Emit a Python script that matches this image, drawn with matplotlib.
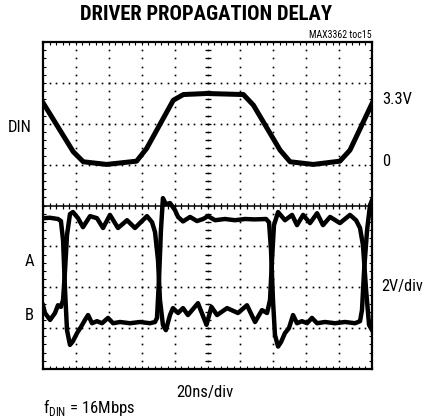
import numpy as np
import matplotlib
matplotlib.use("Agg")
import matplotlib.pyplot as plt

# time in ns (20 ns/div, 10 div), levels in screen divisions (0 = bottom, 8 = top)
din_t = [0, 18.4, 24.5, 38.7, 56.9, 63.0, 79.2, 85.3, 99.5, 121.8, 127.9,
         144.1, 150.2, 164.3, 180.5, 186.6, 200]
din_v = [3.03, 0.63, 0.14, 0.01, 0.17, 0.79, 3.15, 3.43, 3.48, 3.43, 2.91,
         0.71, 0.14, 0.01, 0.17, 0.71, 2.99]   # volts, 2V/div, 0V at div 5

a_t = [0, 4.3, 9.1, 10.9, 12.2, 13.4, 14.6, 16.4, 18.2, 20.7, 23.1, 25.5, 27.4,
       29.8, 32.8, 35.9, 39.5, 42.6, 46.8, 52.9, 59.0, 65.0, 68.1, 69.3, 70.5,
       71.7, 72.9, 74.7, 77.2, 80.2, 82.1, 85.1, 89.4, 93.6, 97.3, 100.3, 104.6,
       110.6, 116.7, 122.8, 128.9, 135.6, 137.4, 138.6, 139.8, 141.0, 142.9,
       144.7, 147.1, 149.5, 152.0, 154.4, 157.4, 160.5, 163.5, 166.6, 171.4,
       177.5, 183.6, 189.7, 192.7, 193.9, 195.2, 197.0, 198.8, 200]
a_v = [3.69, 3.70, 3.67, 3.62, 3.15, 1.93, 0.95, 0.59, 0.68, 0.88, 1.03, 1.20,
       1.32, 1.12, 1.17, 1.12, 1.25, 1.12, 1.15, 1.12, 1.15, 1.12, 1.15, 1.25,
       2.18, 3.40, 4.18, 4.03, 4.06, 3.89, 3.72, 3.61, 3.72, 3.62, 3.67, 3.74,
       3.64, 3.67, 3.64, 3.67, 3.66, 3.67, 3.59, 2.91, 1.69, 0.83, 0.55, 0.66,
       0.88, 1.00, 1.32, 1.12, 1.17, 1.12, 1.25, 1.12, 1.15, 1.12, 1.15, 1.12,
       1.17, 1.44, 2.42, 3.40, 4.01, 4.13]

b_t = [0, 1.2, 4.3, 7.3, 9.1, 10.9, 12.2, 13.4, 14.6, 16.4, 18.2, 21.3, 24.3,
       28.6, 32.8, 36.5, 40.7, 45.6, 51.1, 55.9, 63.2, 66.3, 68.1, 69.9, 71.1,
       72.9, 74.7, 77.2, 79.0, 82.1, 85.1, 88.1, 94.2, 99.4, 102.4, 105.8,
       111.9, 118.5, 124.0, 128.9, 133.1, 136.2, 138.0, 139.2, 140.4, 142.9,
       147.1, 151.4, 154.4, 158.1, 162.3, 166.6, 170.2, 174.5, 180.5, 186.6,
       190.3, 192.7, 194.5, 196.4, 198.2, 200]
b_v = [1.56, 1.37, 1.20, 1.37, 1.56, 1.52, 1.69, 2.42, 3.28, 3.79, 3.84, 3.69,
       3.47, 3.74, 3.69, 3.45, 3.77, 3.45, 3.64, 3.45, 3.74, 3.59, 3.35, 2.67,
       1.69, 1.08, 0.95, 1.32, 1.49, 1.37, 1.49, 1.32, 1.61, 1.08, 1.52, 1.32,
       1.49, 1.37, 1.56, 1.15, 1.44, 1.37, 1.69, 2.67, 3.52, 3.84, 3.64, 3.77,
       3.52, 3.77, 3.57, 3.81, 3.52, 3.72, 3.57, 3.77, 3.64, 3.45, 3.03, 1.93,
       1.08, 0.95]

fig = plt.figure(figsize=(4.24, 4.18), dpi=100)
ax = fig.add_axes([0.1014, 0.1172, 0.776, 0.7823])
ax.set_xlim(0, 10)
ax.set_ylim(0, 8)

# scope graticule
dots_x = np.arange(0, 10.01, 0.2)
dots_y = np.arange(0, 8.01, 0.2)
for gy in range(1, 8):
    if gy == 4:
        continue
    ax.plot(dots_x, np.full_like(dots_x, gy), ls='none', marker='s', ms=1.2,
            mec='none', color='black', zorder=1)
for gx in range(1, 10):
    ax.plot(np.full_like(dots_y, gx), dots_y, ls='none', marker='s', ms=1.2,
            mec='none', color='black', zorder=1)
ax.plot(np.full_like(dots_y, 5), dots_y, ls='none', marker='_', ms=4,
        mew=0.9, color='black', zorder=1)
ax.axhline(4, color='black', lw=1.1, zorder=1)
ax.plot(dots_x, np.full_like(dots_x, 4), ls='none', marker='|', ms=4,
        mew=0.9, color='black', zorder=1)

ax.set_xticks(np.arange(0, 10.01, 0.2))
ax.set_yticks(np.arange(0, 8.01, 0.2))
ax.tick_params(direction='in', length=2.5, width=0.8, top=True, right=True,
               labelbottom=False, labelleft=False)
for s in ax.spines.values():
    s.set_linewidth(1.6)

# traces
ax.plot(np.array(din_t) / 20, 5 + np.array(din_v) / 2, color='black', lw=3.6,
        solid_joinstyle='round', zorder=3)
ax.plot(np.array(a_t) / 20, a_v, color='black', lw=3.2, solid_joinstyle='round',
        zorder=3)
ax.plot(np.array(b_t) / 20, b_v, color='black', lw=3.2, solid_joinstyle='round',
        zorder=3)

fam = ['Roboto Condensed', 'Liberation Sans Narrow', 'Roboto', 'DejaVu Sans']
W, H = 424.0, 418.0
def txt(x, y, s, **kw):
    fig.text(x / W, 1 - y / H, s, family=fam, va='center', **kw)

txt(206.5, 15, 'DRIVER PROPAGATION DELAY', fontsize=14.9, weight='bold', ha='center')
txt(372, 34.5, 'MAX3362 toc15', fontsize=7.1, ha='right')
txt(8, 127, 'DIN', fontsize=12)
txt(382, 100, '3.3V', fontsize=12)
txt(382, 162, '0', fontsize=12)
txt(25, 262, 'A', fontsize=12)
txt(25, 315, 'B', fontsize=12)
txt(381, 287, '2V/div', fontsize=11.7)
txt(205, 392, '20ns/div', fontsize=12, ha='center')
txt(43, 408, r'f$_{\mathregular{DIN}}$ = 16Mbps', fontsize=12)

fig.savefig('out.png', dpi=100)
